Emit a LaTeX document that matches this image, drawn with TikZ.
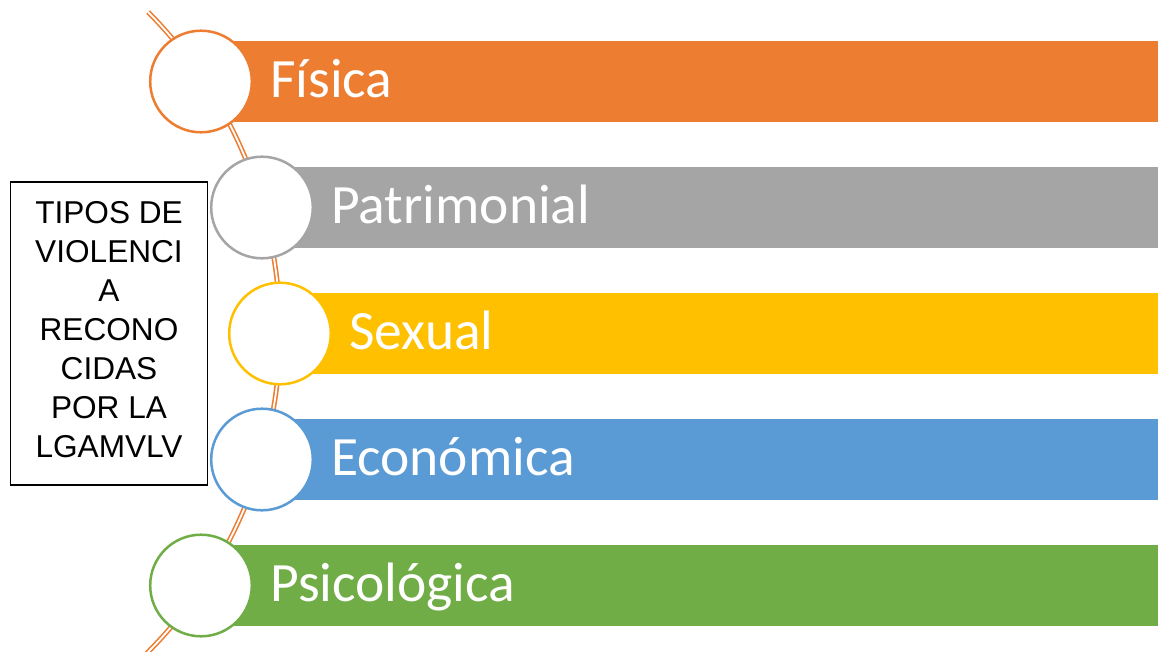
\documentclass[tikz,border=0pt]{standalone}
\usepackage{fontspec}
\setmainfont{Carlito}
\newfontfamily\arialfont{Liberation Sans}
\definecolor{cOrange}{HTML}{ED7D31}
\definecolor{cGray}{HTML}{A5A5A5}
\definecolor{cYellow}{HTML}{FFC000}
\definecolor{cBlue}{HTML}{5B9BD5}
\definecolor{cGreen}{HTML}{70AD47}
\begin{document}
\begin{tikzpicture}[x=1pt,y=-1pt,
  bar/.style={fill=#1,draw=none},
  ring/.style={circle,draw=#1,fill=white,line width=2.5pt,minimum size=101.6pt,inner sep=0pt},
  label/.style={anchor=base west,text=white,font=\fontsize{55.5}{66}\selectfont,inner sep=0pt},
  arcline/.style={draw=cOrange,double=white,line width=1.6pt,double distance=1.8pt},
  titlebox/.style={draw=black,line width=1.5pt,fill=white,minimum width=197pt,minimum height=303pt,align=center,inner sep=0pt,text depth=8pt,font=\arialfont\fontsize{31.6}{39}\selectfont}
]
\useasboundingbox (0,0) rectangle (1158,652);
\clip (0,0) rectangle (1158,652);
% bars
\fill[bar=cOrange] (201,41) rectangle (1158,122);
\fill[bar=cGray] (262,167) rectangle (1158,248);
\fill[bar=cYellow] (280,293) rectangle (1158,374);
\fill[bar=cBlue] (262,419) rectangle (1158,500);
\fill[bar=cGreen] (201,545) rectangle (1158,626);
% arc line
\draw[arcline] (-174,332) ++(-44.8:454) arc[start angle=-44.8,end angle=46,radius=454];
% circles
\node[ring=cOrange] (c1) at (201,81.5) {};
\node[ring=cGray] (c2) at (262,207.5) {};
\node[ring=cYellow] (c3) at (280,333.5) {};
\node[ring=cBlue] (c4) at (262,459.5) {};
\node[ring=cGreen] (c5) at (201,585.5) {};
% labels
\node[label] (t1) at (270,97.5) {Física};
\node[label] (t2) at (331,223.5) {Patrimonial};
\node[label] (t3) at (349,349.5) {Sexual};
\node[label] (t4) at (331,475.5) {Económica};
\node[label] (t5) at (270,601.5) {Psicológica};
% title box
\node[titlebox] (box) at (109,333.5) {TIPOS DE\\VIOLENCI\\A\\RECONO\\CIDAS\\POR LA\\LGAMVLV};
\end{tikzpicture}
\end{document}
